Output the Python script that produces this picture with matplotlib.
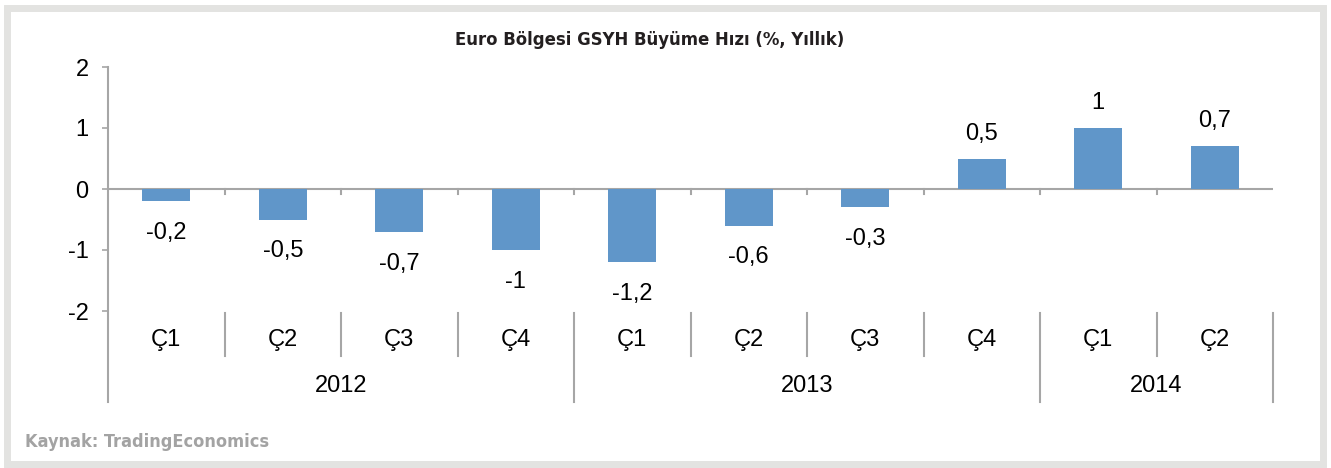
import matplotlib.pyplot as plt
from matplotlib import font_manager
from matplotlib.patches import Rectangle

plt.rcParams['font.family'] = ['Liberation Sans', 'DejaVu Sans']

#data
quarters = ["Ç1", "Ç2", "Ç3", "Ç4", "Ç1", "Ç2", "Ç3", "Ç4", "Ç1", "Ç2"]
years = ["2012", "2013", "2014"]
year_counts = [4, 4, 2]
growth = [-0.2, -0.5, -0.7, -1.0, -1.2, -0.6, -0.3, 0.5, 1.0, 0.7]

W, H = 1331, 468
fig = plt.figure(figsize=(W / 100, H / 100), dpi=100)
fig.patch.set_facecolor("white")

#outer gray frame
fig.patches.append(Rectangle((7 / W, 4 / H), 1316 / W, 456 / H, transform=fig.transFigure,
                             fill=False, edgecolor="#e3e3e1", linewidth=5, zorder=0))

ax = fig.add_axes([108 / W, 1 - 311 / H, (1273 - 108) / W, (311 - 67) / H])
x = list(range(len(growth)))
ax.bar(x, growth, width=0.41, color="#6096c9", zorder=3)
ax.set_xlim(-0.5, len(growth) - 0.5)
ax.set_ylim(-2, 2)
ax.set_yticks([-2, -1, 0, 1, 2])
ax.set_yticklabels(["-2", "-1", "0", "1", "2"], fontsize=17)
ax.tick_params(axis="y", length=4, color="#a6a6a6", width=1.2, pad=10)
ax.set_xticks([])
for s in ax.spines.values():
    s.set_visible(False)

line_c = "#a6a6a6"
tr = ax.get_xaxis_transform()
#zero line with small ticks
ax.axhline(0, color=line_c, lw=1.5, zorder=2)
for b in range(1, len(growth)):
    ax.plot([b - 0.5, b - 0.5], [0, -0.08], color=line_c, lw=1.5, clip_on=False)

#left axis line extending down through category area
ax.plot([-0.5, -0.5], [1.0, -0.373], transform=tr, color=line_c, lw=1.5, clip_on=False)

#quarter separators and year separators
bounds = [0]
for c in year_counts:
    bounds.append(bounds[-1] + c)
for b in range(1, len(growth) + 1):
    if b in bounds:
        ax.plot([b - 0.5, b - 0.5], [-0.008, -0.373], transform=tr, color=line_c, lw=1.5, clip_on=False)
    else:
        ax.plot([b - 0.5, b - 0.5], [-0.008, -0.184], transform=tr, color=line_c, lw=1.5, clip_on=False)

for i, q in enumerate(quarters):
    ax.text(i, -0.118, q, transform=tr, ha="center", va="center", fontsize=17)
for y, a, b in zip(years, bounds[:-1], bounds[1:]):
    ax.text((a + b - 1) / 2, -0.307, y, transform=tr, ha="center", va="center", fontsize=17)

#value labels
for i, v in enumerate(growth):
    lab = ("%g" % v).replace(".", ",")
    if v < 0:
        ax.annotate(lab, (i, v), xytext=(0, -15), textcoords="offset points",
                    ha="center", va="top", fontsize=17)
    else:
        ax.annotate(lab, (i, v), xytext=(0, 10), textcoords="offset points",
                    ha="center", va="bottom", fontsize=17)

#narrow bold font for title and source, if a condensed face exists
cond = [f for f in font_manager.fontManager.ttflist
        if f.name in ("DejaVu Sans", "Liberation Sans Narrow") and f.stretch in ("condensed", "semi-condensed", 375)
        and f.weight in ("bold", 700)]
if cond:
    fam = dict(family=[cond[0].name], stretch=cond[0].stretch)
    ts, ss = 13.2, 13.0
else:
    fam = dict(family=["Liberation Sans"])
    ts, ss = 12.0, 11.5

fig.text(650 / W, 1 - 40 / H, "Euro Bölgesi GSYH Büyüme Hızı (%, Yıllık)", ha="center", va="center",
         color="#231f20", fontproperties=font_manager.FontProperties(weight="bold", size=ts, **fam))
fig.text(25 / W, 1 - 442 / H, "Kaynak: TradingEconomics", ha="left", va="center",
         color="#a3a3a3", fontproperties=font_manager.FontProperties(weight="bold", size=ss, **fam))

fig.savefig("out.png", dpi=100)
